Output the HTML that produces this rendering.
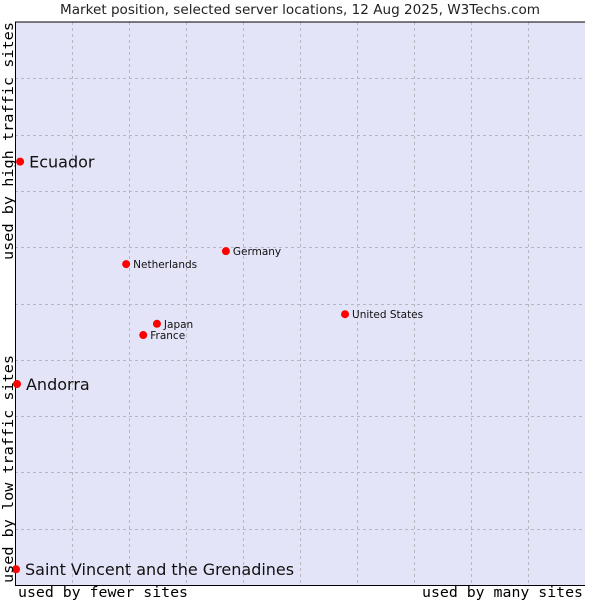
<!DOCTYPE html>
<html><head><meta charset="utf-8"><style>
body{margin:0;background:#fff;}
svg{display:block;font-family:"DejaVu Sans","Liberation Sans",sans-serif;}
</style></head><body>
<svg id="chart" width="600" height="600">
<text x="300" y="14" text-anchor="middle" font-size="13" textLength="480" lengthAdjust="spacingAndGlyphs" fill="#222">Market position, selected server locations, 12 Aug 2025, W3Techs.com</text>
<rect x="15" y="22" width="570" height="563" fill="#e3e4f8"/>
<g id="grid"></g>
<line x1="15" y1="22" x2="585" y2="22" stroke="#000"/>
<line x1="15.5" y1="22" x2="15.5" y2="585" stroke="#000"/>
<line x1="15" y1="585.5" x2="585" y2="585.5" stroke="#000"/>
<g id="points"></g>
<text x="18" y="597" font-family="DejaVu Sans Mono,monospace" font-size="14.5" textLength="170" lengthAdjust="spacingAndGlyphs" fill="#000">used by fewer sites</text>
<text x="422" y="597" font-family="DejaVu Sans Mono,monospace" font-size="14.5" textLength="161" lengthAdjust="spacingAndGlyphs" fill="#000">used by many sites</text>
<text transform="translate(13,583) rotate(-90)" font-family="DejaVu Sans Mono,monospace" font-size="14.5" textLength="228" lengthAdjust="spacingAndGlyphs" fill="#000">used by low traffic sites</text>
<text transform="translate(13,260) rotate(-90)" font-family="DejaVu Sans Mono,monospace" font-size="14.5" textLength="238" lengthAdjust="spacingAndGlyphs" fill="#000">used by high traffic sites</text>
</svg>
<script>
const names=["Ecuador","Andorra","Saint Vincent and the Grenadines","Netherlands","Germany","Japan","France","United States"];
const xValues=[0.9,0.35,0.18,19.5,37.0,24.9,22.5,57.9];
const yValues=[75.2,35.7,2.8,57.0,59.3,46.4,44.4,48.1];
const bigLabel=[true,true,true,false,false,false,false,false];
const NS="http://www.w3.org/2000/svg";
const L=15,R=585,T=22,B=585;
function sx(v){return L+v/100*(R-L);}
function sy(v){return B-v/100*(B-T);}
const grid=document.getElementById('grid');
for(let i=1;i<10;i++){
  const v=document.createElementNS(NS,'line');
  v.setAttribute('x1',Math.round(sx(i*10))+0.5);v.setAttribute('x2',Math.round(sx(i*10))+0.5);
  v.setAttribute('y1',T);v.setAttribute('y2',B);
  v.setAttribute('stroke','#b8b8c0');v.setAttribute('stroke-dasharray','3,3');
  
  
  grid.appendChild(v);
  const h=document.createElementNS(NS,'line');
  h.setAttribute('y1',Math.round(sy(i*10))+0.5);h.setAttribute('y2',Math.round(sy(i*10))+0.5);
  h.setAttribute('x1',L);h.setAttribute('x2',R);
  h.setAttribute('stroke','#b8b8c0');h.setAttribute('stroke-dasharray','3,3');
  
  
  grid.appendChild(h);
}
const pts=document.getElementById('points');
names.forEach((n,i)=>{
  const x=sx(xValues[i]),y=sy(yValues[i]);
  const c=document.createElementNS(NS,'circle');
  c.setAttribute('cx',x);c.setAttribute('cy',y);c.setAttribute('r',4);c.setAttribute('fill','#f00');
  
  
  pts.appendChild(c);
  const t=document.createElementNS(NS,'text');
  t.setAttribute('x',x+(bigLabel[i]?9:7));t.setAttribute('y',y+(bigLabel[i]?6:4));
  t.setAttribute('font-size',bigLabel[i]?16:10.5);t.setAttribute('fill','#111');
  t.textContent=n;
  
  
  pts.appendChild(t);
});
</script>
</body></html>
